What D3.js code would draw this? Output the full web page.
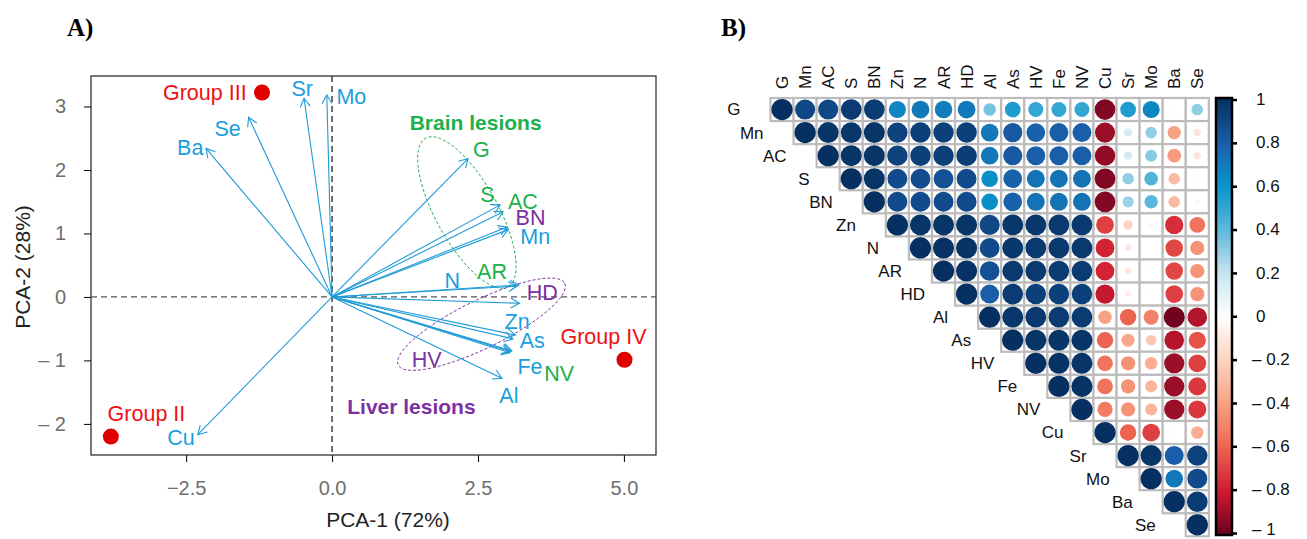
<!DOCTYPE html>
<html>
<head>
<meta charset="utf-8">
<script src="https://cdn.jsdelivr.net/npm/d3@7"></script>
<style>
  body { margin: 0; background: #fff; }
  svg { display: block; font-family: "Liberation Sans", Arial, sans-serif; }
</style>
</head>
<body>
<svg id="chart" width="1307" height="539"></svg>
<script>
// ---- Panel A: PCA biplot ----
const pcaVars = ["G", "Mn", "AC", "S", "BN", "Zn", "N", "AR", "HD", "Al", "As", "HV", "Fe", "NV", "Cu", "Sr", "Mo", "Ba", "Se"];
const pc1 = [2.33, 3.02, 2.93, 2.88, 3.00, 3.14, 3.17, 3.20, 3.21, 2.91, 3.10, 3.05, 3.06, 3.08, -2.30, -0.48, -0.09, -2.16, -1.43];
const pc2 = [2.18, 1.06, 1.34, 1.45, 1.10, -0.60, 0.17, 0.19, -0.10, -1.28, -0.66, -0.88, -0.86, -0.85, -2.17, 3.13, 3.18, 2.34, 2.83];
const labelX = [2.56, 3.48, 3.27, 2.66, 3.40, 3.17, 2.06, 2.74, 3.60, 3.03, 3.43, 1.62, 3.39, 3.89, -2.59, -0.51, 0.33, -2.43, -1.79];
const labelY = [2.33, 0.95, 1.51, 1.62, 1.25, -0.39, 0.26, 0.40, 0.07, -1.56, -0.68, -0.98, -1.09, -1.20, -2.22, 3.28, 3.16, 2.35, 2.65];
// e = element, b = brain lesion, l = liver lesion
const varKind = ["b", "e", "b", "b", "l", "e", "e", "b", "l", "e", "e", "l", "e", "b", "e", "e", "e", "e", "e"];

const groups = ["Group II", "Group III", "Group IV"];
const groupX = [-3.79, -1.20, 5.01];
const groupY = [-2.20, 3.22, -0.99];
const groupLabelX = [-3.18, -2.18, 4.65];
const groupLabelY = [-1.83, 3.22, -0.63];

const ellNames = ["Brain lesions", "Liver lesions"];
const ellCx = [2.31, 2.56];
const ellCy = [1.33, -0.43];
const ellAx = [0.705, 1.426];
const ellAy = [-1.17, 0.643];
const ellBx = [-0.464, 0.181];
const ellBy = [-0.236, -0.339];
const ellTitleX = [2.46, 1.36];
const ellTitleY = [2.75, -1.73];

const xTicks = [-2.5, 0.0, 2.5, 5.0];
const yTicks = [-2, -1, 0, 1, 2, 3];

// ---- Panel B: correlation matrix ----
const corrVars = ["G", "Mn", "AC", "S", "BN", "Zn", "N", "AR", "HD", "Al", "As", "HV", "Fe", "NV", "Cu", "Sr", "Mo", "Ba", "Se"];
// upper triangle, row i holds columns i+1 .. end
const corrRows = [
  [0.90, 0.90, 0.95, 0.95, 0.65, 0.70, 0.68, 0.70, 0.35, 0.55, 0.50, 0.50, 0.50, -0.95, 0.55, 0.65, 0.02, 0.30],
  [0.98, 0.97, 0.98, 0.92, 0.93, 0.93, 0.93, 0.70, 0.82, 0.78, 0.80, 0.80, -0.90, 0.15, 0.30, -0.40, -0.12],
  [0.98, 0.98, 0.92, 0.93, 0.93, 0.94, 0.70, 0.82, 0.80, 0.80, 0.80, -0.92, 0.15, 0.32, -0.42, -0.12],
  [0.98, 0.88, 0.87, 0.86, 0.88, 0.62, 0.78, 0.72, 0.72, 0.72, -0.95, 0.30, 0.42, -0.30, -0.03],
  [0.88, 0.88, 0.88, 0.88, 0.62, 0.78, 0.72, 0.72, 0.72, -0.95, 0.28, 0.40, -0.30, -0.05],
  [0.98, 0.98, 0.98, 0.90, 0.97, 0.97, 0.96, 0.96, -0.70, -0.20, -0.05, -0.75, -0.55],
  [0.99, 0.99, 0.88, 0.97, 0.96, 0.96, 0.96, -0.78, -0.10, -0.02, -0.68, -0.45],
  [0.99, 0.86, 0.96, 0.96, 0.95, 0.95, -0.78, -0.10, -0.02, -0.68, -0.45],
  [0.80, 0.95, 0.93, 0.93, 0.93, -0.82, -0.08, 0.02, -0.70, -0.45],
  [0.97, 0.96, 0.95, 0.95, -0.40, -0.60, -0.50, -0.98, -0.85],
  [0.98, 0.98, 0.98, -0.60, -0.38, -0.25, -0.85, -0.65],
  [0.99, 0.98, -0.55, -0.45, -0.35, -0.90, -0.70],
  [0.99, -0.55, -0.45, -0.32, -0.90, -0.72],
  [-0.52, -0.45, -0.32, -0.90, -0.72],
  [-0.60, -0.70, -0.03, -0.35],
  [0.98, 0.80, 0.92],
  [0.70, 0.88],
  [0.95],
  []
];
const colorStops = [-1, -0.8, -0.6, -0.4, -0.2, 0, 0.2, 0.4, 0.6, 0.8, 1];
const colorValues = ["#67001f", "#cf1b31", "#ec6450", "#f7a283", "#fcd3c0", "#ffffff", "#c6e4f0", "#5bb8dc", "#0a93c9", "#1a5da8", "#053061"];
const barTicks = [1, 0.8, 0.6, 0.4, 0.2, 0, -0.2, -0.4, -0.6, -0.8, -1];

const svg = d3.select("#chart");
const blue = "#1a9ee0", green = "#20b04b", purple = "#7b30a3", red = "#ee1111";
const kindColor = { e: blue, b: green, l: purple };

// panel titles
svg.append("text").attr("x", 67).attr("y", 36).text("A)")
  .style("font-family", "'Liberation Serif', serif").style("font-weight", "bold").style("font-size", "25px");
svg.append("text").attr("x", 721).attr("y", 36).text("B)")
  .style("font-family", "'Liberation Serif', serif").style("font-weight", "bold").style("font-size", "25px");

// ---- draw panel A ----
const x = d3.scaleLinear().domain([-4.13, 5.55]).range([91, 656]);
const y = d3.scaleLinear().domain([-2.49, 3.48]).range([455, 76]);
const pA = svg.append("g");

pA.append("g").attr("transform", "translate(0,455)")
  .call(d3.axisBottom(x).tickValues(xTicks).tickFormat(d3.format(".1f")).tickSize(7).tickSizeOuter(0))
  .call(g => g.select(".domain").remove())
  .call(g => g.selectAll("text").attr("dy", "1.5em").style("font-size", "20px").attr("fill", "#6e6e6e").text(d => d3.format(".1f")(d).replace("-", "\u2013")));
pA.append("g").attr("transform", "translate(91,0)")
  .call(d3.axisLeft(y).tickValues(yTicks).tickSize(7).tickSizeOuter(0))
  .call(g => g.select(".domain").remove())
  .call(g => g.selectAll("text").attr("x", -25).style("font-size", "20px").attr("fill", "#6e6e6e").text(d => d < 0 ? "\u2013 " + (-d) : d));

pA.append("rect").attr("x", 91).attr("y", 76).attr("width", 565).attr("height", 379)
  .attr("fill", "none").attr("stroke", "#222").attr("stroke-width", 1.2);

pA.append("line").attr("x1", 91).attr("x2", 656).attr("y1", y(0)).attr("y2", y(0))
  .attr("stroke", "#555").attr("stroke-dasharray", "6,4").attr("stroke-width", 1.2);
pA.append("line").attr("x1", x(0)).attr("x2", x(0)).attr("y1", 76).attr("y2", 455)
  .attr("stroke", "#111").attr("stroke-dasharray", "6,4").attr("stroke-width", 1.2);

pA.append("text").attr("x", 388).attr("y", 527).attr("text-anchor", "middle")
  .style("font-size", "21px").attr("fill", "#222").text("PCA-1 (72%)");
pA.append("text").attr("transform", "translate(30,267) rotate(-90)").attr("text-anchor", "middle")
  .style("font-size", "21px").attr("fill", "#222").text("PCA-2 (28%)");

// ellipses
const ellColors = [green, purple];
const tt = d3.range(0, 361, 4).map(a => a * Math.PI / 180);
ellNames.forEach((name, k) => {
  const pts = tt.map(t => [
    x(ellCx[k] + ellAx[k] * Math.cos(t) + ellBx[k] * Math.sin(t)),
    y(ellCy[k] + ellAy[k] * Math.cos(t) + ellBy[k] * Math.sin(t))
  ]);
  pA.append("path").attr("d", d3.line()(pts)).attr("fill", "none")
    .attr("stroke", ellColors[k]).attr("stroke-width", 1).attr("stroke-dasharray", "3,2");
  pA.append("text").attr("x", x(ellTitleX[k])).attr("y", y(ellTitleY[k])).attr("dy", "0.35em")
    .attr("text-anchor", "middle").style("font-size", "21px").style("font-weight", "bold")
    .attr("fill", ellColors[k]).text(name);
});

// arrows
const arrows = pA.append("g");
pcaVars.forEach((v, i) => {
  const x0 = x(0), y0 = y(0), x1 = x(pc1[i]), y1 = y(pc2[i]);
  const ang = Math.atan2(y1 - y0, x1 - x0);
  const L = 10, h = Math.PI / 6;
  arrows.append("line").attr("x1", x0).attr("y1", y0).attr("x2", x1).attr("y2", y1)
    .attr("stroke", "#1e9bd7").attr("stroke-width", 1.1);
  arrows.append("path")
    .attr("d", `M${x1 - L * Math.cos(ang - h)},${y1 - L * Math.sin(ang - h)}L${x1},${y1}L${x1 - L * Math.cos(ang + h)},${y1 - L * Math.sin(ang + h)}`)
    .attr("fill", "none").attr("stroke", "#1e9bd7").attr("stroke-width", 1.1);
});

pA.selectAll(".vlab").data(pcaVars).enter().append("text")
  .attr("x", (d, i) => x(labelX[i])).attr("y", (d, i) => y(labelY[i])).attr("dy", "0.35em")
  .attr("text-anchor", "middle").style("font-size", "21.5px")
  .attr("fill", (d, i) => kindColor[varKind[i]]).text(d => d);

pA.selectAll(".gdot").data(groups).enter().append("circle")
  .attr("cx", (d, i) => x(groupX[i])).attr("cy", (d, i) => y(groupY[i])).attr("r", 8).attr("fill", "#e00000");
pA.selectAll(".glab").data(groups).enter().append("text")
  .attr("x", (d, i) => x(groupLabelX[i])).attr("y", (d, i) => y(groupLabelY[i])).attr("dy", "0.35em")
  .attr("text-anchor", "middle").style("font-size", "21.5px").attr("fill", red).text(d => d);

// ---- draw panel B ----
const cell = 23.07;
const gx = d3.scaleBand().domain(corrVars).range([770.5, 770.5 + cell * corrVars.length]);
const gy = d3.scaleBand().domain(corrVars).range([98, 98 + cell * corrVars.length]);
const color = d3.scaleLinear().domain(colorStops).range(colorValues);

const cells = [];
corrVars.forEach((rv, i) => {
  cells.push({ r: rv, c: rv, v: 1 });
  corrRows[i].forEach((v, k) => cells.push({ r: rv, c: corrVars[i + 1 + k], v: v }));
});

const pB = svg.append("g");
pB.selectAll(".cell").data(cells).enter().append("rect")
  .attr("x", d => gx(d.c)).attr("y", d => gy(d.r))
  .attr("width", gx.bandwidth()).attr("height", gy.bandwidth())
  .attr("fill", "#fff").attr("stroke", "#bcbcbc").attr("stroke-width", 2.2);
pB.selectAll(".dot").data(cells).enter().append("circle")
  .attr("cx", d => gx(d.c) + gx.bandwidth() / 2).attr("cy", d => gy(d.r) + gy.bandwidth() / 2)
  .attr("r", d => 0.92 * Math.sqrt(Math.abs(d.v)) / 2 * cell)
  .attr("fill", d => color(d.v));

pB.selectAll(".rlab").data(corrVars).enter().append("text")
  .attr("x", d => gx(d) - 30).attr("y", d => gy(d) + gy.bandwidth() / 2).attr("dy", "0.35em")
  .attr("text-anchor", "end").style("font-size", "17px").attr("fill", "#111").text(d => d);
pB.selectAll(".clab").data(corrVars).enter().append("text")
  .attr("transform", d => `translate(${gx(d) + gx.bandwidth() / 2 + 6},89) rotate(-90)`)
  .attr("text-anchor", "start").style("font-size", "17px").attr("fill", "#111").text(d => d);

// colour bar
const cb = d3.scaleLinear().domain([1, -1]).range([99.5, 533]);
const grad = svg.append("defs").append("linearGradient").attr("id", "cbar")
  .attr("x1", 0).attr("x2", 0).attr("y1", 0).attr("y2", 1);
colorStops.slice().reverse().forEach((s, i) => {
  grad.append("stop").attr("offset", (i / (colorStops.length - 1) * 100) + "%").attr("stop-color", color(s));
});
pB.append("rect").attr("x", 1216).attr("y", 98).attr("width", 16).attr("height", 437)
  .attr("fill", "url(#cbar)").attr("stroke", "#000").attr("stroke-width", 2.5);
pB.append("g").attr("transform", "translate(1232,0)")
  .call(d3.axisRight(cb).tickValues(barTicks).tickSize(5).tickSizeOuter(0))
  .call(g => g.select(".domain").remove())
  .call(g => g.selectAll("line").attr("stroke-width", 2.5))
  .call(g => g.selectAll("text").attr("x", d => d < 0 ? 20 : 24).attr("dy", d => d === -1 ? "0.1em" : "0.3em")
    .style("font-size", "17px").attr("fill", "#111")
    .text(d => d < 0 ? "\u2013 " + (-d) : d));
</script>
</body>
</html>
